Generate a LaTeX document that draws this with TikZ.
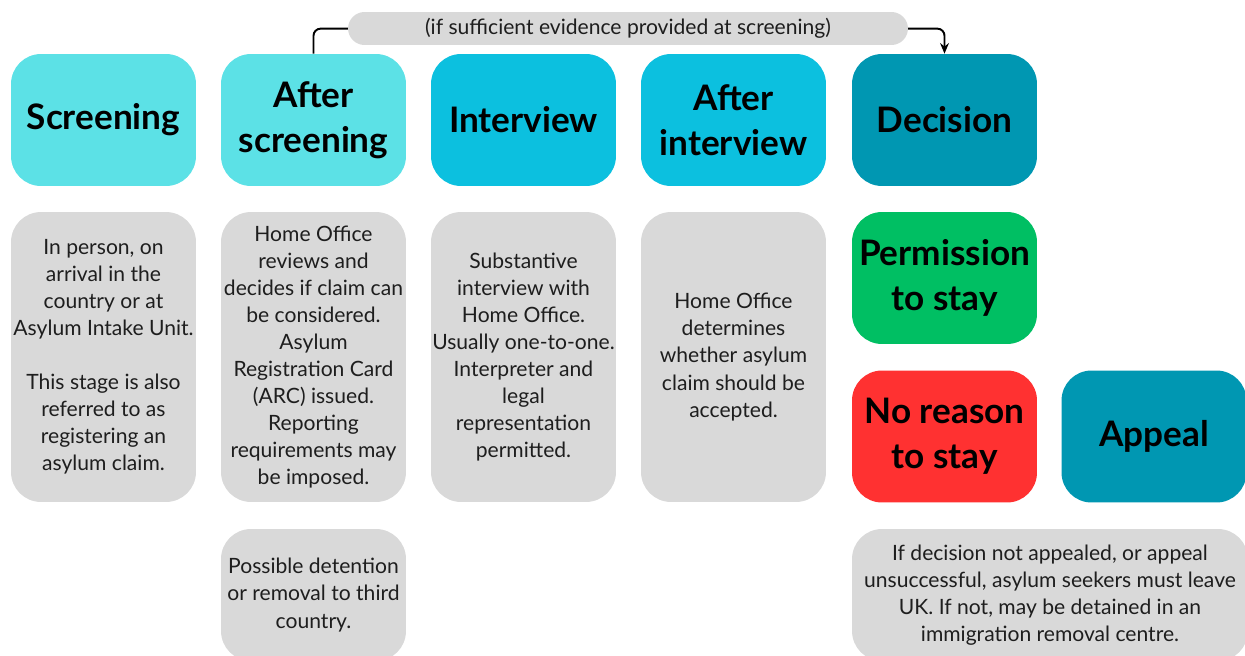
\documentclass[tikz,border=0pt]{standalone}
\usepackage{fontspec}
\setmainfont{Lato}
\usetikzlibrary{arrows.meta}

\definecolor{stagelight}{HTML}{5CE1E6}
\definecolor{stagemid}{HTML}{0CC0DF}
\definecolor{stagedark}{HTML}{0097B2}
\definecolor{staygreen}{HTML}{00BF63}
\definecolor{leavered}{HTML}{FF3131}
\definecolor{greybox}{HTML}{D9D9D9}
\definecolor{inktext}{HTML}{1E1E1E}

\begin{document}
\begin{tikzpicture}[x=0.02cm,y=-0.02cm,
        stage/.style={rounded corners=0.6cm, minimum width=3.7cm, minimum height=2.64cm,
            align=center, inner sep=0pt,
            font=\fontsize{20}{25.6}\selectfont\bfseries},
        info/.style={fill=greybox, rounded corners=0.6cm, minimum width=3.7cm, minimum height=5.8cm,
            align=center, inner sep=0pt, text=inktext,
            font=\fontsize{12}{15.4}\selectfont}]
        \useasboundingbox (0,0) rectangle (1245,656);
        \clip (0,0) rectangle (1245,656);

        % top row of stages
        \foreach \nm/\xx/\col/\txt in {scr/103.5/stagelight/{Screening},
                scrafter/313.5/stagelight/{After\\screening},
                intv/523.5/stagemid/{Interview},
                intvafter/733.5/stagemid/{After\\interview},
                dec/944.5/stagedark/{Decision}}
        {
            \node[stage, fill=\col] (\nm) at (\xx,120) {\txt};
        }

        % what happens at each stage
        \node[info] (scrinfo) at (103.5,357) {In person, on\\arrival in the\\country or at\\Asylum Intake Unit.\\[15.4pt]This stage is also\\referred to as\\registering an\\asylum claim.};
        \node[info] (scrafterinfo) at (313.5,357) {Home Office\\reviews and\\decides if claim can\\be considered.\\Asylum\\Registration Card\\(ARC) issued.\\Reporting\\requirements may\\be imposed.};
        \node[info] (intvinfo) at (523.5,357) {Substantive\\interview with\\Home Office.\\Usually one-to-one.\\Interpreter and\\legal\\representation\\permitted.};
        \node[info] (intvafterinfo) at (733.5,357) {Home Office\\determines\\whether asylum\\claim should be\\accepted.};

        % outcomes
        \node[stage, fill=staygreen] (stay) at (944.5,278) {Permission\\to stay};
        \node[stage, fill=leavered] (noreason) at (944.5,436.5) {No reason\\to stay};
        \node[stage, fill=stagedark] (appeal) at (1154,436.5) {Appeal};

        % lower notes
        \node[info, minimum height=2.64cm] (detain) at (313.5,595) {Possible detention\\or removal to third\\country.};
        \node[info, minimum height=2.64cm, minimum width=7.92cm] (leave) at (1050,595) {If decision not appealed, or appeal\\unsuccessful, asylum seekers must leave\\UK. If not, may be detained in an\\immigration removal centre.};

        % shortcut from screening to decision
        \draw[line width=1.1pt, rounded corners=4pt, -{Stealth[length=6pt,width=5pt]}]
            (scrafter.north) -- ++(0,-25) -| (dec.north);
        \node[fill=greybox, rounded corners=0.33cm, minimum width=11.2cm, minimum height=0.66cm,
            inner sep=0pt, text=inktext, font=\fontsize{12}{15.4}\selectfont] (shortcut) at (628,28.5)
            {(if sufficient evidence provided at screening)};
\end{tikzpicture}
\end{document}
